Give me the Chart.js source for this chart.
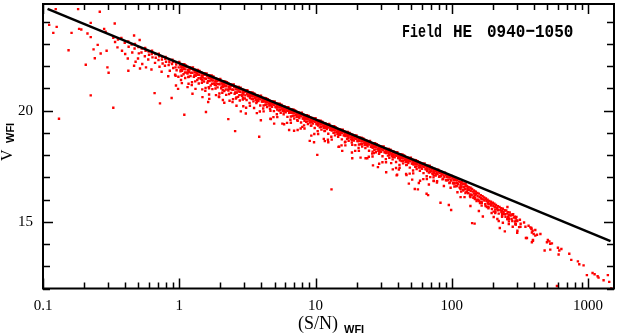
<!DOCTYPE html>
<html>
<head>
<meta charset="utf-8">
<script src="https://cdn.jsdelivr.net/npm/chart.js@4.4.1/dist/chart.umd.min.js"></script>
<style>
  html, body { margin: 0; padding: 0; background: #fff; }
  #wrap { width: 618px; height: 335px; }
</style>
</head>
<body>
<div id="wrap"><canvas id="chart" width="618" height="335"></canvas></div>
<script>
// tick labels
const xTickValues = [0.1, 1, 10, 100, 1000];
const xTickLabels = ['0.1', '1', '10', '100', '1000'];
const yTickValues = [15, 20];

// fitted relation, end points
const fitSN = [0.108, 1462];
const fitV = [24.58, 14.13];

// stars, [S/N, V]
// faint / scattered objects below S/N ~ 7
const faintStars = [
  [0.124,24.57],[0.181,24.57],[0.261,24.45],[0.111,23.86],[0.126,23.77],[0.119,23.50],[0.162,23.50],[0.184,23.68],
  [0.191,23.65],[0.224,23.95],[0.336,23.92],[0.212,23.47],[0.224,23.31],[0.281,23.68],[0.288,23.55],[0.154,22.72],
  [0.252,22.96],[0.235,22.76],[0.265,22.57],[0.240,22.36],[0.206,22.07],[0.293,22.70],[0.297,21.95],[0.303,21.71],
  [0.328,23.28],[0.338,23.09],[0.466,23.38],[0.512,23.18],[0.423,21.80],[0.224,20.69],[0.328,20.13],[0.131,19.64],
  [0.659,20.79],[0.722,20.33],[0.879,20.57],[0.515,21.90],[0.466,22.02],[1.089,19.82],[1.570,19.94],[1.63,20.39],
  [1.48,20.61],[2.57,19.08],[3.86,18.83],[2.29,19.62],[0.94,21.57],[1.03,21.38],[0.98,20.98],[0.946,21.13],
  [1.15,21.06],[1.25,20.76],[1.66,20.53],[1.96,20.61],[2.14,20.36],[2.83,19.97],[3.08,19.87],[3.54,20.12],
  [3.97,19.57],[4.70,19.62],[4.97,19.42],[5.71,19.42],[6.40,19.13],[6.96,19.10]
];

// main sequence hugging the line
const bandStars = [
  [0.355,23.20],[0.352,22.85],[0.376,23.27],[0.380,22.70],[0.398,23.05],[0.401,22.55],[0.422,23.12],[0.425,22.88],
  [0.419,22.35],[0.447,22.98],[0.452,22.62],[0.473,23.00],[0.470,22.80],[0.478,22.20],[0.501,22.86],[0.505,22.58],
  [0.498,22.35],[0.531,22.80],[0.528,22.62],[0.535,22.10],[0.562,22.82],[0.566,22.70],[0.559,22.45],[0.570,21.95],
  [0.596,22.66],[0.600,22.52],[0.592,22.30],[0.631,22.70],[0.628,22.55],[0.636,22.40],[0.625,21.85],[0.668,22.55],
  [0.672,22.38],[0.664,22.15],[0.708,22.56],[0.712,22.45],[0.704,22.28],[0.716,21.98],[0.750,22.42],[0.746,22.30],
  [0.755,22.12],[0.742,21.75],[0.794,22.42],[0.790,22.33],[0.800,22.20],[0.785,22.02],[0.841,22.30],[0.846,22.18],
  [0.836,22.05],[0.852,21.80],[0.830,21.55],[0.891,22.29],[0.897,22.20],[0.885,22.10],[0.903,21.92],[0.944,22.18],
  [0.950,22.08],[0.938,21.95],[0.956,21.82],[0.932,21.62],
  [1.00,22.19],[1.01,22.07],[0.99,21.95],[1.02,21.77],[0.985,21.53],
  [1.06,22.09],[1.07,21.97],[1.05,21.84],[1.075,21.64],[1.045,21.24],
  [1.12,22.04],[1.13,21.97],[1.11,21.86],[1.14,21.72],[1.105,21.47],
  [1.19,21.94],[1.20,21.86],[1.18,21.74],[1.21,21.56],[1.17,21.21],
  [1.26,21.94],[1.27,21.82],[1.25,21.70],[1.28,21.52],[1.24,21.28],
  [1.33,21.83],[1.345,21.71],[1.32,21.58],[1.355,21.38],[1.315,20.98],
  [1.41,21.79],[1.425,21.72],[1.40,21.61],[1.435,21.47],[1.39,21.22],
  [1.50,21.69],[1.51,21.61],[1.485,21.49],[1.52,21.31],[1.475,20.96],
  [1.585,21.68],[1.60,21.56],[1.57,21.44],[1.61,21.26],[1.56,21.02],
  [1.68,21.58],[1.69,21.46],[1.665,21.33],[1.70,21.13],[1.655,20.73],
  [1.78,21.54],[1.79,21.47],[1.765,21.36],[1.80,21.22],[1.75,20.97],
  [1.88,21.43],[1.90,21.35],[1.87,21.23],[1.91,21.05],[1.86,20.70],
  [2.00,21.43],[2.01,21.31],[1.98,21.19],[2.03,21.01],[1.97,20.77],
  [2.11,21.33],[2.13,21.21],[2.10,21.08],[2.14,20.88],[2.09,20.48],
  [2.24,21.28],[2.26,21.21],[2.22,21.10],[2.27,20.96],[2.21,20.71],
  [2.37,21.18],[2.39,21.10],[2.35,20.98],[2.40,20.80],[2.34,20.45],
  [2.51,21.18],[2.53,21.06],[2.49,20.94],[2.55,20.76],[2.48,20.52],
  [2.66,21.07],[2.68,20.95],[2.64,20.82],[2.70,20.62],[2.63,20.22],
  [2.82,21.03],[2.84,20.96],[2.80,20.85],[2.86,20.71],[2.78,20.46],
  [2.99,20.93],[3.01,20.85],[2.96,20.73],[3.03,20.55],[2.95,20.20],
  [3.16,20.92],[3.19,20.83],[3.14,20.76],[3.21,20.66],[3.12,20.48],
  [3.35,20.82],[3.38,20.75],[3.32,20.66],[3.40,20.52],[3.30,20.22],
  [3.55,20.78],[3.58,20.73],[3.52,20.66],[3.60,20.58],[3.50,20.42],
  [3.76,20.68],[3.79,20.60],[3.73,20.49],[3.81,20.43],[3.71,19.89],
  [3.98,20.67],[4.01,20.58],[3.95,20.51],[4.04,20.41],[3.93,20.23],
  [4.22,20.57],[4.25,20.50],[4.19,20.41],[4.28,20.27],[4.16,19.97],
  [4.47,20.52],[4.50,20.47],[4.43,20.40],[4.53,20.32],[4.41,20.16],
  [4.73,20.43],[4.77,20.35],[4.70,20.24],[4.80,20.18],[4.67,19.64],
  [5.01,20.42],[5.05,20.33],[4.97,20.26],[5.08,20.16],[4.95,19.98],
  [5.31,20.31],[5.35,20.24],[5.27,20.15],[5.38,20.01],[5.24,19.71],
  [5.62,20.27],[5.67,20.22],[5.58,20.15],[5.70,20.07],[5.55,19.91],
  [5.96,20.18],[6.00,20.10],[5.91,19.99],[6.04,19.93],[5.88,19.39],
  [6.31,20.16],[6.36,20.07],[6.26,20.00],[6.40,19.90],[6.22,19.72],
  [6.68,20.06],[6.73,19.99],[6.63,19.90],[6.78,19.76],[6.59,19.46],
  [7.08,20.01],[7.13,19.96],[7.02,19.89],[7.18,19.81],[6.98,19.65],
  [7.50,19.92],[7.56,19.84],[7.44,19.73],[7.61,19.67],[7.39,19.13],
  [7.94,19.91],[8.01,19.82],[7.88,19.75],[8.06,19.65],[7.83,19.47],
  [8.41,19.80],[8.48,19.73],[8.35,19.64],[8.54,19.50],[8.30,19.20],
  [8.91,19.76],[8.98,19.71],[8.84,19.64],[9.04,19.56],[8.79,19.40],
  [9.44,19.67],[9.52,19.59],[9.37,19.48],[9.58,19.42],[9.31,18.88],
  [10.0,19.66],[10.1,19.57],[9.92,19.50],[10.15,19.40],[9.86,19.22],
  [10.6,19.55],[10.7,19.48],[10.5,19.39],[10.75,19.25],[10.45,18.95],
  [11.2,19.51],[11.3,19.46],[11.1,19.39],[11.4,19.31],[11.05,19.15],
  [11.9,19.42],[12.0,19.34],[11.8,19.23],[12.1,19.17],[11.7,18.63],
  [12.6,19.40],[12.7,19.31],[12.5,19.24],[12.8,19.14],[12.4,18.96],
  [13.3,19.30],[13.45,19.23],[13.2,19.14],[13.55,19.00],[13.15,18.70],
  [14.1,19.25],[14.25,19.20],[14.0,19.13],[14.35,19.05],[13.9,18.89],
  [15.0,19.16],[15.1,19.08],[14.85,18.97],[15.2,18.91],[14.75,18.37],
  [15.85,19.15],[16.0,19.06],[15.7,18.99],[16.1,18.89],[15.6,18.71],
  [16.8,19.04],[16.95,18.97],[16.65,18.88],[17.05,18.74],[16.55,18.44],
  [17.8,19.00],[17.95,18.95],[17.6,18.88],[18.05,18.80],[17.5,18.64],
  [18.8,18.91],[19.0,18.83],[18.65,18.72],[19.15,18.66],[18.5,18.12],
  [19.95,18.89],[20.15,18.80],[19.75,18.73],[20.3,18.63],[19.6,18.45],
  [21.1,18.79],[21.3,18.72],[20.9,18.63],[21.5,18.49],[20.8,18.19],
  [22.4,18.75],[22.6,18.70],[22.2,18.63],[22.8,18.55],[22.0,18.39],
  [23.7,18.65],[23.9,18.57],[23.5,18.46],[24.1,18.40],[23.3,17.86],
  [25.1,18.64],[25.35,18.55],[24.9,18.48],[25.5,18.38],[24.7,18.20],
  [26.6,18.54],[26.85,18.47],[26.35,18.38],[27.0,18.24],[26.2,17.94],
  [28.2,18.49],[28.45,18.44],[27.9,18.37],[28.6,18.29],[27.7,18.13],
  [29.85,18.40],[30.1,18.32],[29.55,18.21],[30.3,18.15],[29.3,17.61],
  [31.6,18.39],[31.9,18.30],[31.3,18.23],[32.1,18.13],[31.0,17.95],
  [33.5,18.28],[33.8,18.21],[33.2,18.12],[34.0,17.98],[32.9,17.68],
  [35.5,18.24],[35.8,18.19],[35.15,18.12],[36.0,18.04],[34.8,17.88],
  [37.6,18.15],[37.9,18.07],[37.2,17.96],[38.1,17.90],[36.9,17.36],
  [39.8,18.13],[40.2,18.04],[39.4,17.97],[40.4,17.87],[39.0,17.69],
  [42.2,18.03],[42.55,17.96],[41.8,17.87],[42.8,17.73],[41.4,17.43],
  [44.7,17.99],[45.1,17.94],[44.3,17.87],[45.3,17.79],[43.9,17.63],
  [47.3,17.89],[47.7,17.81],[46.9,17.70],[48.0,17.64],[46.5,17.10],
  [50.1,17.88],[50.6,17.79],[49.7,17.72],[50.9,17.62],[49.2,17.44],
  [53.1,17.78],[53.6,17.71],[52.6,17.62],[53.9,17.48],[52.1,17.18],
  [56.2,17.73],[56.7,17.68],[55.7,17.61],[57.1,17.53],[55.2,17.37],
  [59.6,17.64],[60.1,17.56],[59.0,17.45],[60.5,17.39],[58.5,16.85],
  [63.1,17.63],[63.7,17.54],[62.5,17.47],[64.1,17.37],[62.0,17.19],
  [66.8,17.52],[67.4,17.45],[66.2,17.36],[67.9,17.22],[65.6,16.92],
  [70.8,17.46],[71.4,17.38],[70.1,17.30],[72.0,17.18],[69.5,17.01],
  [75.0,17.38],[75.7,17.30],[74.3,17.20],[76.2,17.08],[73.6,16.85],
  [79.4,17.35],[80.2,17.25],[78.7,17.15],[80.7,17.03],[78.0,16.83],
  [84.1,17.24],[84.9,17.15],[83.3,17.05],[85.5,16.91],
  [89.1,17.21],[90.0,17.11],[88.2,17.01],[90.6,16.87],[87.5,16.61],
  [94.4,17.10],[95.3,17.00],[93.5,16.89],[96.0,16.74],
  [100,17.06],[101,16.96],[99,16.86],[102,16.73],[98,16.53],
  [106,16.97],[107,16.87],[105,16.74],[108,16.60],
  [112,16.91],[113,16.81],[111,16.69],[114,16.55],[110,16.33],
  [119,16.81],[120,16.71],[118,16.59],[121,16.44],
  [126,16.73],[127,16.61],[125,16.49],[128,16.35],[124,16.11],
  [133,16.56],[135,16.44],[132,16.30],[136,16.16],
  [141,16.48],[143,16.36],[140,16.22],[144,16.08],
  [150,16.36],[151,16.24],[148,16.09],[152,15.94],
  [158,16.27],[160,16.13],[157,15.99],[161,15.85],
  [168,16.15],[170,16.01],[166,15.85],
  [178,16.05],[180,15.93],[176,15.79],[181,15.67],
  [188,15.94],[190,15.80],[186,15.66],
  [200,15.86],[202,15.72],[197,15.58],[203,15.46],
  [211,15.76],[214,15.62],[209,15.46],
  [224,15.67],[227,15.53],[221,15.37],
  [237,15.59],[240,15.43],[234,15.27],
  [251,15.51],[254,15.37],[248,15.23],[256,15.12],
  [266,15.42],[270,15.28],[263,15.12],
  [282,15.34],[286,15.19],[278,15.04],
  [298,15.22],[302,15.06],[295,14.88],
  [316,15.09],[320,14.91],[312,14.76]
];

// second pass over the sequence, between the columns above
const bandStars2 = [
  [1.029,22.09],[1.035,21.98],[1.024,21.84],[1.04,21.57],[1.09,22.09],[1.096,21.99],[1.085,21.88],[1.10,21.72],
  [1.155,21.97],[1.16,21.83],[1.15,21.67],[1.165,21.51],[1.223,21.93],[1.23,21.88],[1.217,21.71],[1.235,21.15],
  [1.296,21.84],[1.30,21.73],[1.29,21.59],[1.31,21.32],[1.372,21.83],[1.38,21.73],[1.365,21.62],[1.385,21.46],
  [1.454,21.72],[1.46,21.58],[1.447,21.42],[1.465,21.26],[1.54,21.67],[1.548,21.62],[1.533,21.45],[1.553,20.89],
  [1.631,21.58],[1.64,21.47],[1.625,21.33],[1.645,21.06],[1.728,21.58],[1.735,21.48],[1.72,21.37],[1.74,21.21],
  [1.83,21.46],[1.838,21.32],[1.822,21.16],[1.845,21.00],[1.939,21.42],[1.947,21.37],[1.93,21.20],[1.955,20.64],
  [2.054,21.33],[2.063,21.22],[2.045,21.08],[2.07,20.81],[2.176,21.32],[2.185,21.22],[2.167,21.11],[2.19,20.95],
  [2.304,21.21],[2.313,21.07],[2.295,20.91],[2.32,20.75],[2.441,21.17],[2.45,21.12],[2.43,20.95],[2.46,20.39],
  [2.585,21.07],[2.595,20.96],[2.575,20.82],[2.605,20.55],[2.738,21.07],[2.75,20.97],[2.727,20.86],[2.76,20.70],
  [2.901,20.96],[2.912,20.82],[2.89,20.66],[2.925,20.50],[3.073,20.91],[3.085,20.86],[3.06,20.69],[3.095,20.13],
  [3.255,20.82],[3.268,20.76],[3.242,20.66],[3.28,20.35],[3.447,20.82],[3.46,20.73],[3.433,20.65],[3.475,20.54],
  [3.652,20.70],[3.666,20.61],[3.638,20.48],[3.68,20.34],[3.868,20.66],[3.883,20.62],[3.853,20.53],[3.90,19.96],
  [4.097,20.57],[4.113,20.51],[4.08,20.41],[4.13,20.10],[4.34,20.56],[4.357,20.47],[4.323,20.39],[4.375,20.28],
  [4.597,20.45],[4.615,20.36],[4.58,20.23],[4.635,20.09],[4.87,20.41],[4.89,20.37],[4.85,20.28],[4.91,19.71],
  [5.158,20.31],[5.18,20.25],[5.14,20.15],[5.20,19.84],[5.464,20.31],[5.485,20.22],[5.443,20.14],[5.51,20.03],
  [5.788,20.20],[5.81,20.11],[5.765,19.98],[5.835,19.84],[6.131,20.15],[6.155,20.11],[6.107,20.02],[6.18,19.45],
  [6.494,20.06],[6.52,20.00],[6.47,19.90],[6.545,19.59],[6.879,20.06],[6.905,19.97],[6.853,19.89],[6.935,19.78],
  [7.286,19.94],[7.315,19.85],[7.258,19.72],[7.345,19.58],[7.718,19.90],[7.75,19.86],[7.69,19.77],[7.78,19.20],
  [8.175,19.81],[8.21,19.75],[8.145,19.65],[8.24,19.34],[8.66,19.80],[8.695,19.71],[8.625,19.63],[8.73,19.52],
  [9.173,19.69],[9.21,19.60],[9.14,19.47],[9.25,19.33],[9.716,19.65],[9.755,19.61],[9.68,19.52],[9.795,18.95],
  [10.29,19.55],[10.33,19.49],[10.25,19.39],[10.37,19.08],[10.9,19.55],[10.94,19.46],[10.86,19.38],[10.99,19.27],
  [11.55,19.44],[11.6,19.35],[11.5,19.22],[11.64,19.08],[12.23,19.39],[12.28,19.35],[12.18,19.26],[12.33,18.69],
  [12.96,19.30],[13.01,19.24],[12.91,19.14],[13.06,18.83],[13.72,19.30],[13.78,19.21],[13.67,19.13],[13.83,19.02],
  [14.54,19.18],[14.6,19.09],[14.48,18.96],[14.66,18.82],[15.4,19.14],[15.46,19.10],[15.34,19.01],[15.52,18.44],
  [16.31,19.05],[16.37,18.99],[16.25,18.89],[16.44,18.58],[17.28,19.04],[17.35,18.95],[17.21,18.87],[17.42,18.76],
  [18.3,18.93],[18.37,18.84],[18.23,18.71],[18.45,18.57],[19.39,18.89],[19.47,18.85],[19.31,18.76],[19.55,18.19],
  [20.54,18.79],[20.62,18.73],[20.46,18.63],[20.7,18.32],[21.76,18.79],[21.85,18.70],[21.67,18.62],[21.94,18.51],
  [23.04,18.68],[23.13,18.59],[22.95,18.46],[23.22,18.32],[24.41,18.63],[24.5,18.59],[24.31,18.50],[24.6,17.93],
  [25.85,18.54],[25.95,18.48],[25.75,18.38],[26.05,18.07],[27.38,18.54],[27.49,18.45],[27.27,18.37],[27.6,18.26],
  [29.01,18.42],[29.12,18.33],[28.9,18.20],[29.24,18.06],[30.73,18.38],[30.85,18.34],[30.61,18.25],[30.97,17.68],
  [32.55,18.29],[32.68,18.23],[32.42,18.13],[32.8,17.82],[34.47,18.28],[34.6,18.19],[34.34,18.11],[34.74,18.00],
  [36.52,18.17],[36.66,18.08],[36.38,17.95],[36.8,17.81],[38.68,18.12],[38.83,18.08],[38.53,17.99],[38.98,17.42],
  [40.97,18.03],[41.13,17.97],[40.81,17.87],[41.29,17.56],[43.4,18.03],[43.57,17.94],[43.23,17.86],[43.74,17.75],
  [45.97,17.91],[46.15,17.82],[45.79,17.69],[46.33,17.55],[48.7,17.87],[48.89,17.83],[48.51,17.74],[49.08,17.17],
  [51.58,17.78],[51.78,17.72],[51.38,17.62],[51.98,17.31],[54.64,17.77],[54.85,17.68],[54.43,17.60],[55.06,17.49],
  [57.88,17.66],[58.1,17.57],[57.66,17.44],[58.32,17.30],[61.31,17.62],[61.55,17.58],[61.07,17.49],[61.79,16.92],
  [64.94,17.52],[65.19,17.46],[64.69,17.36],[65.44,17.05],[68.79,17.52],[69.06,17.43],[68.52,17.35],[69.33,17.24],
  [72.86,17.36],[73.14,17.27],[72.58,17.14],[73.42,17.00],[77.18,17.32],[77.48,17.25],[76.88,17.15],[77.78,16.77],
  [81.75,17.27],[82.07,17.20],[81.43,17.05],[86.6,17.18],[86.94,17.09],[86.26,16.94],
  [91.73,17.13],[92.1,17.02],[91.4,16.88],[97.16,17.03],[97.5,16.91],[96.8,16.77],[102.9,16.99],[103.3,16.87],
  [102.5,16.75],[109,16.88],[109.4,16.76],[108.6,16.62],[115.5,16.80],[115.9,16.67],[115.1,16.52],[122.3,16.71],
  [122.8,16.58],[121.8,16.41],[129.6,16.61],[130.1,16.49],[129.1,16.35],[137.2,16.53],[137.7,16.39],[136.7,16.23],
  [145.4,16.41],[145.9,16.27],[144.9,16.13],[154,16.30],[154.6,16.15],[153.4,16.00],[163.1,16.20],[163.7,16.06],
  [162.5,15.90],[172.8,16.10],[173.4,15.96],[183,15.99],[183.7,15.85],[193.9,15.90],[194.6,15.73],[205.4,15.81],
  [206.1,15.65],[217.6,15.70],[218.4,15.52],[230.4,15.61],[231.2,15.44],[244.1,15.52],[245,15.34],[258.5,15.43],
  [259.4,15.23],[273.8,15.33],[274.8,15.13],[290.1,15.23],[291.1,15.01]
];

// third pass, irregular spread inside the sequence
const bandStars3 = [
  [1.045,22.03],[1.045,21.79],[1.045,21.94],[1.172,21.76],[1.172,21.95],[1.172,21.53],[1.315,21.73],[1.315,21.58],
  [1.315,21.76],[1.476,21.37],[1.476,21.54],[1.476,21.68],[1.656,21.34],[1.656,21.48],[1.656,21.01],[1.857,21.33],
  [1.857,21.44],[1.857,21.14],[2.084,21.15],[2.084,20.93],[2.084,21.26],[2.339,21.16],[2.339,20.98],[2.339,21.08],
  [2.624,20.80],[2.624,20.99],[2.624,20.59],[2.944,20.79],[2.944,20.90],[2.944,20.58],[3.303,20.74],[3.303,20.57],
  [3.303,20.68],[3.707,20.49],[3.707,20.67],[3.707,20.40],[4.159,20.45],[4.159,20.23],[4.159,20.51],[4.667,20.25],
  [4.667,20.35],[4.667,20.00],[5.236,20.27],[5.236,20.17],[5.236,20.05],[5.874,19.96],[5.874,20.08],[5.874,20.17],
  [6.592,19.92],[6.592,19.74],[6.592,19.99],[7.395,19.84],[7.395,19.73],[7.395,19.54],[8.298,19.55],[8.298,19.77],
  [8.298,19.68],[9.311,19.51],[9.311,19.60],[9.311,19.33],
  [10.45,19.51],[10.45,19.33],[10.45,19.44],[11.72,19.27],[11.72,19.42],[11.72,19.09],[13.15,19.22],[13.15,19.11],
  [13.15,19.25],[14.76,18.91],[14.76,19.05],[14.76,19.16],[16.56,18.86],[16.56,18.97],[16.56,18.60],[18.57,18.83],
  [18.57,18.91],[18.57,18.68],[20.84,18.66],[20.84,18.48],[20.84,18.75],[23.39,18.64],[23.39,18.50],[23.39,18.58],
  [26.24,18.33],[26.24,18.48],[26.24,18.16],[29.44,18.29],[29.44,18.38],[29.44,18.13],[33.03,18.23],[33.03,18.09],
  [33.03,18.18],[37.07,18.00],[37.07,18.15],[37.07,17.93],[41.59,17.95],[41.59,17.77],[41.59,17.99],[46.67,17.76],
  [46.67,17.84],[46.67,17.56],[52.36,17.75],[52.36,17.67],[52.36,17.58],[58.74,17.48],[58.74,17.57],[58.74,17.65],
  [65.92,17.42],[65.92,17.28],[65.92,17.48],[73.95,17.33],[73.95,17.24],[73.95,17.09],[82.98,17.07],[82.98,17.25],
  [82.98,17.18],[93.11,17.02],[93.11,17.09],[93.11,16.87],
  [104.5,16.89],[104.5,16.72],[104.5,16.59],[117.2,16.58],[117.2,16.74],[117.2,16.36],[131.5,16.44],[131.5,16.29],
  [131.5,16.54],[147.6,16.03],[147.6,16.19],[147.6,16.36],[165.6,15.88],[165.6,16.03],[165.6,15.73],[185.7,15.79],
  [185.7,15.91],[185.7,15.61],[208.4,15.55],[208.4,15.40],[208.4,15.68],[233.9,15.49],[233.9,15.35],[233.9,15.23],
  [262.4,15.15],[262.4,15.31],[262.4,15.02],[294.4,15.06],[294.4,15.18],[294.4,14.90]
];

// stragglers below the sequence
const tailStars = [
  [10.3,18.01],[9.07,18.64],[9.75,18.58],[13.1,16.46],[18.6,17.86],[26.4,17.54],[28.7,17.46],[33.0,17.23],
  [39.4,17.09],[40.9,17.35],[48.4,16.72],[53.5,16.48],[56.4,16.46],[65.3,16.26],[67.0,16.20],[82.6,15.86],
  [95.1,15.76],[98.9,15.53],[141,14.94],[147,14.92],[169,15.24],[203,15.22],[221,15.04],[225,14.72],
  [245,14.57],[262,14.90],[293,14.90],[303,14.60],[339,14.97],[350,14.27],[384,14.72],[394,14.15],
  [410,14.38],[8.00,19.27],[11.5,18.73],[12.4,18.58],[14.9,18.38],[15.7,18.19],[18.6,18.46],[21.4,17.89],
  [24.0,17.86],[26.8,18.09],[35.9,17.64],[39.7,17.12],[46.2,17.15],[51.2,16.90],[57.3,16.75],[67.9,16.68],
  [73.8,16.83],[158,15.93],[158,15.49],[177,15.71],[177,16.02],[196,15.40],[196,15.80],[216,15.58],
  [216,15.13],[237,15.36],[237,14.96],[256,15.13],[256,15.67],[280,15.31],[280,14.78],[302,15.04],
  [302,14.51],[116,16.47],[116,16.11],[126,16.29],[126,16.69],[137,16.11],[137,15.71]
];

// bright, saturating end
const brightStars = [
  [347,14.78],[319,14.78],[366,14.82],[377,14.75],[384,14.67],[392,14.60],[387,14.52],[399,14.45],
  [410,14.63],[422,14.42],[447,14.45],[356,14.27],[394,14.18],[387,14.08],[507,14.18],[520,14.12],
  [528,14.01],[499,14.08],[543,14.03],[480,13.71],[528,13.75],[601,13.83],[615,13.71],[637,13.78],
  [608,13.53],[728,13.56],[753,13.29],[842,13.22],[862,13.09],[927,13.04],[980,12.60],[1079,12.70],
  [1117,12.64],[1175,12.55],[1194,12.49],[1300,12.37],[1397,12.60],[1430,12.30],[1479,12.00],[591,12.11]
];

const allStars = faintStars.concat(bandStars, bandStars2, bandStars3, tailStars, brightStars)
    .map(p => ({ x: p[0], y: p[1] }));

// frame, inward ticks on all sides, axis titles and field label
const framePlugin = {
    id: 'framePlugin',
    afterDraw(chart) {
        const { ctx, chartArea: a, scales: { x, y } } = chart;
        ctx.save();
        ctx.strokeStyle = '#000';
        ctx.lineWidth = 1.5;
        ctx.beginPath();
        for (let e = -1; e <= 3; e++) {
            for (let m = 1; m <= 9; m++) {
                const v = m * Math.pow(10, e);
                if (v < x.min || v > x.max) continue;
                const px = Math.round(x.getPixelForValue(v)) + 0.5;
                const len = m === 1 ? 10 : 6;
                ctx.moveTo(px, a.bottom); ctx.lineTo(px, a.bottom - len);
                ctx.moveTo(px, a.top); ctx.lineTo(px, a.top + len);
            }
        }
        for (let v = Math.ceil(y.min); v <= y.max; v++) {
            const py = Math.round(y.getPixelForValue(v)) + 0.5;
            const len = yTickValues.includes(v) ? 10 : 7;
            ctx.moveTo(a.left, py); ctx.lineTo(a.left + len, py);
            ctx.moveTo(a.right, py); ctx.lineTo(a.right - len, py);
        }
        ctx.stroke();

        ctx.lineWidth = 2;
        ctx.strokeRect(a.left, a.top, a.right - a.left, a.bottom - a.top);

        ctx.fillStyle = '#000';
        ctx.textBaseline = 'alphabetic';
        ctx.textAlign = 'left';

        // x title
        ctx.font = '18px "Liberation Serif"';
        ctx.fillText('(S/N)', 298, 329);
        ctx.font = 'bold 11px "Liberation Sans"';
        ctx.fillText('WFI', 344, 333);

        // y title
        ctx.save();
        ctx.translate(12, 161);
        ctx.rotate(-Math.PI / 2);
        ctx.font = '16px "Liberation Serif"';
        ctx.fillText('V', 0, 0);
        ctx.font = 'bold 11px "Liberation Sans"';
        ctx.fillText('WFI', 18, 1.5);
        ctx.restore();

        // field name
        ctx.save();
        ctx.translate(0, 37);
        ctx.scale(1, 1.2);
        ctx.font = 'bold 16px "Liberation Mono"';
        ctx.fillText('Field', 402, 0, 40);
        ctx.fillText('HE', 453, 0, 23);
        ctx.fillText('0940\u22121050', 487, 0, 88);
        ctx.restore();

        ctx.restore();
    }
};

new Chart(document.getElementById('chart'), {
    data: {
        datasets: [
            {
                type: 'line',
                data: fitSN.map((s, i) => ({ x: s, y: fitV[i] })),
                borderColor: '#000',
                borderWidth: 2.5,
                pointRadius: 0,
                order: 0
            },
            {
                type: 'scatter',
                data: allStars,
                backgroundColor: 'rgb(255, 0, 0)',
                borderWidth: 0,
                pointStyle: 'rect',
                pointRadius: 1.7,
                order: 1
            }
        ]
    },
    options: {
        responsive: false,
        animation: false,
        layout: { padding: { top: 1, right: 2, left: 0, bottom: 0 } },
        plugins: {
            legend: { display: false },
            tooltip: { enabled: false }
        },
        scales: {
            x: {
                type: 'logarithmic',
                min: 0.1,
                max: 1550,
                grid: { display: false, drawTicks: false },
                border: { display: false },
                afterFit: s => {
                    s.height = 46.5;
                    s.paddingLeft = 0;
                    s.paddingRight = 0;
                },
                ticks: {
                    autoSkip: false,
                    maxRotation: 0,
                    padding: 9,
                    color: '#000',
                    font: { family: 'Liberation Serif', size: 15 },
                    callback: v => {
                        const i = xTickValues.findIndex(t => Math.abs(Math.log10(v) - Math.log10(t)) < 1e-6);
                        return i >= 0 ? xTickLabels[i] : '';
                    }
                }
            },
            y: {
                type: 'linear',
                min: 12,
                max: 24.8,
                grid: { display: false, drawTicks: false },
                border: { display: false },
                afterFit: s => {
                    s.width = 43;
                    s.paddingTop = 0;
                    s.paddingBottom = 0;
                },
                ticks: {
                    stepSize: 1,
                    padding: 10,
                    color: '#000',
                    font: { family: 'Liberation Serif', size: 15 },
                    callback: v => yTickValues.includes(v) ? String(v) : ''
                }
            }
        }
    },
    plugins: [framePlugin]
});
</script>
</body>
</html>
